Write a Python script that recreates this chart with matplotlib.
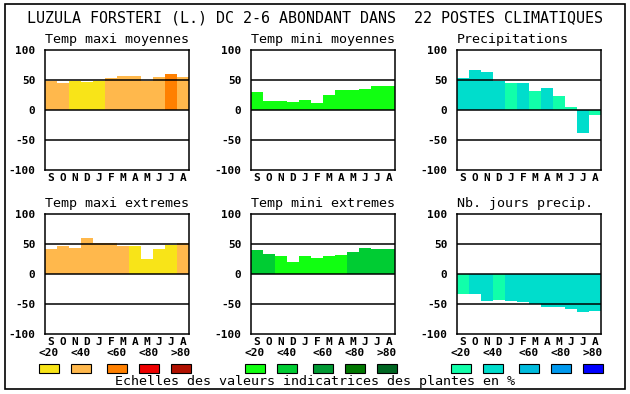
import matplotlib
matplotlib.use("Agg")
import matplotlib.pyplot as plt
from matplotlib.patches import Rectangle

# ---- data ----
MONTHS = ["S", "O", "N", "D", "J", "F", "M", "A", "M", "J", "J", "A"]
CLASS_LABELS = ["<20", "<40", "<60", "<80", ">80"]

WARM = ["#f8e418", "#ffb84c", "#ff8000", "#ee0000", "#b01000"]
GREEN = ["#11ff11", "#00cc33", "#009933", "#007700", "#006622"]
BLUE = ["#11ffaa", "#00ddcc", "#00bbdd", "#0099ee", "#0000ff"]

tmax_moy = [49, 45, 49, 47, 49, 53, 57, 57, 49, 55, 60, 55]
tmax_moy_cls = [1, 1, 0, 0, 0, 1, 1, 1, 1, 1, 2, 1]

tmin_moy = [30, 15, 15, 13, 17, 12, 25, 33, 33, 35, 40, 40]
tmin_moy_cls = [0] * 12

precip = [53, 67, 63, 48, 45, 45, 32, 37, 23, 5, -38, -8]
precip_cls = [1, 1, 1, 1, 0, 1, 0, 1, 0, 0, 1, 0]

tmax_ext = [42, 47, 43, 60, 52, 52, 47, 47, 25, 42, 48, 52]
tmax_ext_cls = [1, 1, 1, 1, 1, 1, 1, 0, 0, 0, 0, 1]

tmin_ext = [40, 33, 30, 20, 30, 27, 30, 32, 37, 43, 42, 42]
tmin_ext_cls = [1, 1, 0, 0, 0, 0, 0, 0, 1, 1, 1, 1]

nb_jours = [-33, -33, -45, -43, -45, -47, -50, -55, -55, -58, -63, -62]
nb_jours_cls = [0, 1, 1, 0, 1, 1, 1, 1, 1, 1, 1, 1]

TITLE = "LUZULA FORSTERI (L.) DC 2-6 ABONDANT DANS  22 POSTES CLIMATIQUES"
FOOT = "Echelles des valeurs indicatrices des plantes en %"

W, H = 630, 394
MONO = "DejaVu Sans Mono"

fig = plt.figure(figsize=(W / 100, H / 100), dpi=100)
fig.patch.set_facecolor("white")


def px_axes(x0, y0, w, h):
    return fig.add_axes([x0 / W, 1 - (y0 + h) / H, w / W, h / H])


def panel(x0, y0, title, vals, cls, pal):
    ax = px_axes(x0, y0, 144, 120)
    colors = [pal[c] for c in cls]
    ax.bar(range(12), vals, width=1.0, align="edge", color=colors,
           linewidth=0, zorder=1)
    for yv in (50, 0, -50):
        ax.axhline(yv, color="black", lw=1.1, zorder=2)
    ax.set_xlim(0, 12)
    ax.set_ylim(-100, 100)
    ax.set_yticks([100, 50, 0, -50, -100])
    ax.set_yticklabels(["100", "50", "0", "-50", "-100"],
                       fontfamily=MONO, fontweight="bold", fontsize=8)
    ax.set_xticks([i + 0.5 for i in range(12)])
    ax.set_xticklabels(MONTHS, fontfamily=MONO, fontweight="bold", fontsize=8)
    ax.tick_params(length=0, pad=2)
    ax.tick_params(axis="y", pad=7)
    for s in ax.spines.values():
        s.set_linewidth(1.1)
    ax.text(0, 1.03, title, transform=ax.transAxes, ha="left", va="bottom",
            fontfamily=MONO, fontsize=9.6)
    return ax


xs = [45, 251, 457]
panel(xs[0], 50, "Temp maxi moyennes", tmax_moy, tmax_moy_cls, WARM)
panel(xs[1], 50, "Temp mini moyennes", tmin_moy, tmin_moy_cls, GREEN)
panel(xs[2], 50, "Precipitations", precip, precip_cls, BLUE)
panel(xs[0], 214, "Temp maxi extremes", tmax_ext, tmax_ext_cls, WARM)
panel(xs[1], 214, "Temp mini extremes", tmin_ext, tmin_ext_cls, GREEN)
panel(xs[2], 214, "Nb. jours precip.", nb_jours, nb_jours_cls, BLUE)

# legend scales
box_offsets = [-6, 26, 62, 94, 126]
for x0, pal in zip(xs, [WARM, GREEN, BLUE]):
    for off, col, lab in zip(box_offsets, pal, CLASS_LABELS):
        bx = x0 + off
        fig.patches.append(Rectangle((bx / W, 1 - 373 / H), 20 / W, 9 / H,
                                     transform=fig.transFigure,
                                     facecolor=col, edgecolor="black", lw=0.8))
        fig.text((bx + 10) / W, 1 - 353 / H, lab, ha="center", va="center",
                 fontfamily=MONO, fontweight="bold", fontsize=8)

fig.text(315 / W, 1 - 18 / H, TITLE, ha="center", va="center",
         fontfamily=MONO, fontsize=10.8)
fig.text(315 / W, 1 - 382 / H, FOOT, ha="center", va="center",
         fontfamily=MONO, fontsize=9.6)

fig.patches.append(Rectangle((5 / W, 1 - 389 / H), 620 / W, 385 / H,
                             transform=fig.transFigure, fill=False,
                             edgecolor="black", lw=1.2))

fig.savefig("out.png", dpi=100)
